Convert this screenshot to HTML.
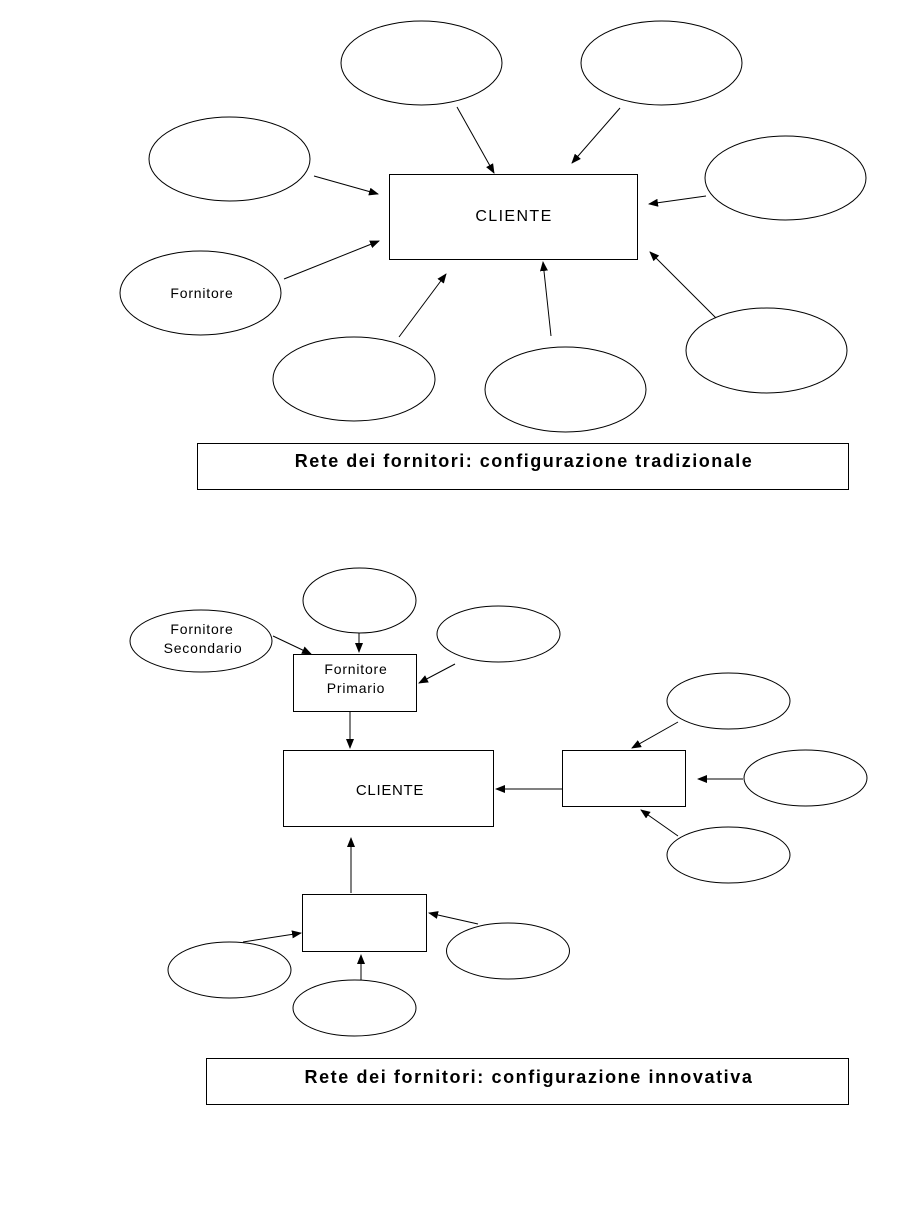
<!DOCTYPE html>
<html><head><meta charset="utf-8"><style>
html,body{margin:0;padding:0;background:#fff;}
svg{display:block;}
text{font-family:"Liberation Sans",Arial,sans-serif;fill:#000;}
</style></head><body>
<svg width="907" height="1211" viewBox="0 0 907 1211" xmlns="http://www.w3.org/2000/svg">
<defs>
<marker id="a" markerWidth="10" markerHeight="8" refX="9" refY="4" orient="auto" markerUnits="userSpaceOnUse">
<path d="M0,0 L10,4 L0,8 z" fill="#000"/>
</marker>
</defs>
<g fill="#fff" stroke="#000" stroke-width="1">
<ellipse cx="421.5" cy="63" rx="80.5" ry="42"/>
<ellipse cx="661.5" cy="63" rx="80.5" ry="42"/>
<ellipse cx="229.5" cy="159" rx="80.5" ry="42"/>
<ellipse cx="785.5" cy="178" rx="80.5" ry="42"/>
<ellipse cx="200.5" cy="293" rx="80.5" ry="42"/>
<ellipse cx="354" cy="379" rx="81" ry="42"/>
<ellipse cx="565.5" cy="389.5" rx="80.5" ry="42.5"/>
<ellipse cx="766.5" cy="350.5" rx="80.5" ry="42.5"/>
<rect x="389.5" y="174.5" width="248" height="85"/>
<rect x="197.5" y="443.5" width="651" height="46"/>
<ellipse cx="359.5" cy="600.5" rx="56.5" ry="32.5"/>
<ellipse cx="201" cy="641" rx="71" ry="31"/>
<ellipse cx="498.5" cy="634" rx="61.5" ry="28"/>
<rect x="293.5" y="654.5" width="123" height="57"/>
<rect x="283.5" y="750.5" width="210" height="76"/>
<rect x="562.5" y="750.5" width="123" height="56"/>
<ellipse cx="728.5" cy="701" rx="61.5" ry="28"/>
<ellipse cx="805.5" cy="778" rx="61.5" ry="28"/>
<ellipse cx="728.5" cy="855" rx="61.5" ry="28"/>
<rect x="302.5" y="894.5" width="124" height="57"/>
<ellipse cx="508" cy="951" rx="61.5" ry="28"/>
<ellipse cx="229.5" cy="970" rx="61.5" ry="28"/>
<ellipse cx="354.5" cy="1008" rx="61.5" ry="28"/>
<rect x="206.5" y="1058.5" width="642" height="46"/>
</g>
<g stroke="#000" stroke-width="1" fill="none" marker-end="url(#a)">
<line x1="457" y1="107" x2="494" y2="173"/>
<line x1="620" y1="108" x2="572" y2="163"/>
<line x1="314" y1="176" x2="378" y2="194"/>
<line x1="706" y1="196" x2="649" y2="204"/>
<line x1="284" y1="279" x2="379" y2="241"/>
<line x1="399" y1="337" x2="446" y2="274"/>
<line x1="551" y1="336" x2="543" y2="262"/>
<line x1="716" y1="318" x2="650" y2="252"/>
<line x1="359" y1="633" x2="359" y2="652"/>
<line x1="273" y1="636" x2="311" y2="654"/>
<line x1="455" y1="664" x2="419" y2="683"/>
<line x1="350" y1="712" x2="350" y2="748"/>
<line x1="562" y1="789" x2="496" y2="789"/>
<line x1="678" y1="722" x2="632" y2="748"/>
<line x1="743" y1="779" x2="698" y2="779"/>
<line x1="678" y1="836" x2="641" y2="810"/>
<line x1="351" y1="893" x2="351" y2="838"/>
<line x1="478" y1="924" x2="429" y2="913"/>
<line x1="243" y1="942" x2="301" y2="933"/>
<line x1="361" y1="980" x2="361" y2="955"/>
</g>
<text x="514" y="221" font-size="16" letter-spacing="1.4" text-anchor="middle">CLIENTE</text>
<text x="202" y="298" font-size="14" letter-spacing="0.8" text-anchor="middle">Fornitore</text>
<text x="524" y="467" font-size="18" font-weight="bold" letter-spacing="1.5" text-anchor="middle">Rete dei fornitori: configurazione tradizionale</text>
<text x="202" y="634" font-size="14" letter-spacing="0.8" text-anchor="middle">Fornitore</text>
<text x="203" y="653" font-size="14" letter-spacing="0.8" text-anchor="middle">Secondario</text>
<text x="356" y="674" font-size="14" letter-spacing="0.8" text-anchor="middle">Fornitore</text>
<text x="356" y="693" font-size="14" letter-spacing="0.8" text-anchor="middle">Primario</text>
<text x="390" y="795" font-size="15" letter-spacing="0.7" text-anchor="middle">CLIENTE</text>
<text x="529" y="1083" font-size="18" font-weight="bold" letter-spacing="1.6" text-anchor="middle">Rete dei fornitori: configurazione innovativa</text>
</svg>
</body></html>
